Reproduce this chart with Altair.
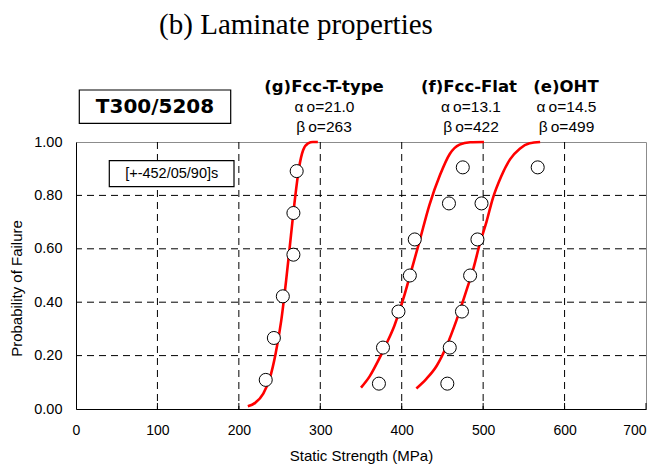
import altair as alt
import pandas as pd

# ---- data ----
tt_strength = [233, 243, 254, 267, 267, 271]
tt_prob = [0.109, 0.266, 0.422, 0.578, 0.734, 0.891]

flat_strength = [372, 377, 396, 410, 416, 458, 475]
flat_prob = [0.095, 0.230, 0.365, 0.500, 0.635, 0.770, 0.905]

oht_strength = [456, 459, 474, 484, 493, 498, 567]
oht_prob = [0.095, 0.230, 0.365, 0.500, 0.635, 0.770, 0.905]

tt_curve_x = [211, 220, 230, 238, 245, 252, 258, 264, 269, 274, 279, 285, 291, 297]
tt_curve_y = [0.01, 0.023, 0.058, 0.115, 0.205, 0.33, 0.48, 0.65, 0.79, 0.905, 0.97, 0.995, 1.0, 1.0]

flat_curve_x = [350, 361, 371, 381, 391, 402, 412, 422, 434, 447, 459, 471, 484, 501]
flat_curve_y = [0.08, 0.124, 0.18, 0.243, 0.312, 0.413, 0.52, 0.63, 0.764, 0.876, 0.955, 0.99, 0.999, 1.0]

oht_curve_x = [418, 430, 443, 455, 467, 481, 488, 496, 504, 512, 522, 533, 545, 557, 570]
oht_curve_y = [0.077, 0.112, 0.162, 0.235, 0.33, 0.458, 0.526, 0.62, 0.70, 0.79, 0.87, 0.935, 0.975, 0.995, 1.0]

x_ticks = [0, 100, 200, 300, 400, 500, 600, 700]
x_grid = [100, 200, 300, 400, 500, 600]
y_ticks = [0.0, 0.2, 0.4, 0.6, 0.8, 1.0]
y_grid = [0.2, 0.4, 0.6, 0.8]

# ---- tables ----
points = pd.DataFrame({
    "strength": tt_strength + flat_strength + oht_strength,
    "prob": tt_prob + flat_prob + oht_prob,
    "series": ["T-type"] * len(tt_strength) + ["Flat"] * len(flat_strength) + ["OHT"] * len(oht_strength),
})
curves = pd.DataFrame({
    "strength": tt_curve_x + flat_curve_x + oht_curve_x,
    "prob": tt_curve_y + flat_curve_y + oht_curve_y,
    "series": ["T-type"] * len(tt_curve_x) + ["Flat"] * len(flat_curve_x) + ["OHT"] * len(oht_curve_x),
})
xgrid_df = pd.DataFrame({"strength": x_grid})
ygrid_df = pd.DataFrame({"prob": y_grid})
xtick_df = pd.DataFrame({"strength": x_ticks[1:]})
one = pd.DataFrame({"k": [0]})

W, H = 570, 267
xscale = alt.Scale(domain=[0, 700], nice=False, zero=False)
yscale = alt.Scale(domain=[0, 1], nice=False)

xaxis = alt.Axis(values=x_ticks, format="d", grid=False, ticks=False, domainColor="black",
                 labelFlush=False, labelOverlap=False, labelFontSize=14, labelPadding=14,
                 labelAlign={"condition": {"test": "datum.value >= 700", "value": "right"}, "value": "center"},
                 titleFontSize=15, titlePadding=11, labelColor="black", titleColor="black",
                 labelFont="Liberation Sans", titleFont="Liberation Sans", titleFontWeight="normal")
yaxis = alt.Axis(values=y_ticks, format=".2f", grid=False, ticks=False, domainColor="black",
                 labelFlush=False, labelOverlap=False, labelFontSize=14.5, labelPadding=14,
                 titleFontSize=15, titlePadding=9, titleY=146, labelColor="black", titleColor="black",
                 labelFont="Liberation Sans", titleFont="Liberation Sans", titleFontWeight="normal")
X = alt.X("strength:Q", scale=xscale, title="Static Strength (MPa)", axis=xaxis)
Y = alt.Y("prob:Q", scale=yscale, title="Probability of Failure", axis=yaxis)

grid_x = alt.Chart(xgrid_df).mark_rule(color="black", strokeWidth=1, strokeDash=[7, 5]).encode(x=X)
grid_y = alt.Chart(ygrid_df).mark_rule(color="black", strokeWidth=1, strokeDash=[7, 5]).encode(y=Y)
ticks = alt.Chart(xtick_df).mark_rule(color="black", strokeWidth=1).encode(
    x=X, y=alt.value(H), y2=alt.value(H - 6),
)

lines = alt.Chart(curves).mark_line(color="#ff0000", strokeWidth=2.6, interpolate="monotone").encode(
    x=X, y=Y, detail="series:N", order="strength:Q",
)

pts = alt.Chart(points).mark_point(
    shape="circle", filled=True, fill="white", stroke="black", strokeWidth=1,
    size=170, opacity=1, fillOpacity=1, strokeOpacity=1,
).encode(x=X, y=Y)


def txt(s, x, y, size, font="Liberation Sans", weight="normal"):
    return alt.Chart(one).mark_text(
        font=font, fontSize=size, fontWeight=weight, color="black", align="center", baseline="middle"
    ).encode(x=alt.value(x), y=alt.value(y), text=alt.value(s))


def box(x1, y1, x2, y2):
    return alt.Chart(one).mark_rect(fill="white", stroke="black", strokeWidth=1.2).encode(
        x=alt.value(x1), x2=alt.value(x2), y=alt.value(y1), y2=alt.value(y2)
    )


ann = [
    txt("(b) Laminate properties", 220, -117, 29, font="Liberation Serif"),
    box(3.3, -52, 154.7, -18.7),
    txt("T300/5208", 79, -35, 20, font="DejaVu Sans", weight="bold"),
    box(33.3, 18.7, 158, 44.7),
    txt("[+-452/05/90]s", 95.7, 31.7, 14.5),
    txt("(g)Fcc-T-type", 248, -55, 16.5, font="DejaVu Sans", weight="bold"),
    txt("α\u2009o=21.0", 248.5, -35, 15.5),
    txt("β\u2009o=263", 248, -15, 15.5),
    txt("(f)Fcc-Flat", 393, -55, 16.5, font="DejaVu Sans", weight="bold"),
    txt("α\u2009o=13.1", 395, -35, 15.5),
    txt("β\u2009o=422", 395, -15, 15.5),
    txt("(e)OHT", 490, -55, 16.5, font="DejaVu Sans", weight="bold"),
    txt("α\u2009o=14.5", 490.5, -35, 15.5),
    txt("β\u2009o=499", 490.5, -15, 15.5),
]

chart = alt.layer(grid_x, grid_y, ticks, lines, pts, *ann).properties(
    width=W, height=H,
    autosize=alt.AutoSizeParams(type="none"),
    padding={"left": 68, "top": 134, "right": 2, "bottom": 57},
    background="white",
).configure_view(stroke="#8c8c8c", strokeWidth=1)

chart.save("out.html", embed_options={"renderer": "svg", "actions": False})
